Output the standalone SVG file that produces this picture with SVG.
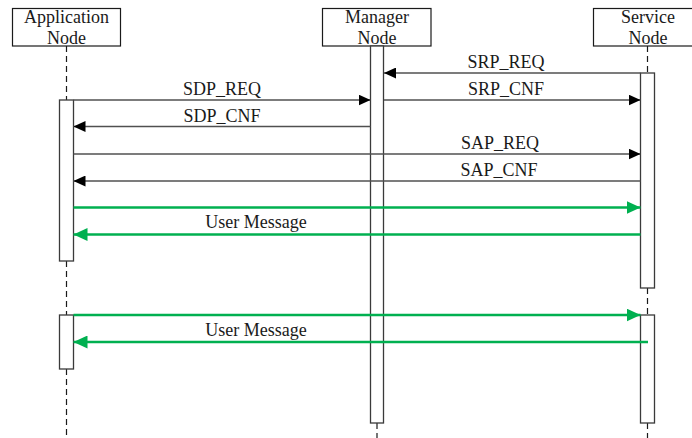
<svg xmlns="http://www.w3.org/2000/svg" width="692" height="438" viewBox="0 0 692 438">
<style>
.box{fill:#fff;stroke:#1a1a1a;stroke-width:1.2}
.act{fill:#fff;stroke:#3a3a3a;stroke-width:1.3}
.life{stroke:#1a1a1a;stroke-width:1.2;stroke-dasharray:6 4;fill:none}
.msg{stroke:#505050;stroke-width:1.4;fill:none}
.umsg{stroke:#00b050;stroke-width:2.4;fill:none}
text{font-family:"Liberation Serif","Times New Roman",serif;font-size:18px;fill:#1a1a1a;text-anchor:middle}
</style>
<defs>
<marker id="ah" markerUnits="userSpaceOnUse" markerWidth="12" markerHeight="11" refX="12" refY="5.5" orient="auto">
<path d="M0,0 L12,5.5 L0,11 z" fill="#000"/>
</marker>
<marker id="gh" markerUnits="userSpaceOnUse" markerWidth="14" markerHeight="13" refX="14" refY="6.5" orient="auto">
<path d="M0,0 L14,6.5 L0,13 z" fill="#00b050"/>
</marker>
</defs>
<g id="lifelines">
<path class="life" d="M66.5,46 V100 M66.5,261 V315 M66.5,369 V438"/>
<path class="life" d="M377,423 V438"/>
<path class="life" d="M647.5,46 V73 M647.5,288 V315 M647.5,423 V438"/>
</g>
<g id="app-node">
<rect class="box" x="12.5" y="8.5" width="108" height="37.5"/>
<text x="66.5" y="23">Application</text>
<text x="66.5" y="43.5">Node</text>
</g>
<g id="manager-node">
<rect class="box" x="322.5" y="8.5" width="108.5" height="37.5"/>
<text x="377" y="23">Manager</text>
<text x="377" y="43.5">Node</text>
</g>
<g id="service-node">
<rect class="box" x="593.5" y="8.5" width="110" height="37.5"/>
<text x="648" y="23">Service</text>
<text x="648" y="43.5">Node</text>
</g>
<g id="activations">
<rect class="act" x="59.5" y="100" width="14" height="161"/>
<rect class="act" x="59.5" y="315" width="14" height="54"/>
<rect class="act" x="370.5" y="46" width="13" height="377"/>
<rect class="act" x="640.5" y="73" width="14" height="215"/>
<rect class="act" x="640.5" y="315" width="14" height="108"/>
</g>
<g id="connectors">
<line class="msg" x1="640.5" y1="73" x2="384" y2="73" marker-end="url(#ah)"/>
<text x="506" y="68">SRP_REQ</text>
<line class="msg" x1="73.5" y1="100" x2="370.5" y2="100" marker-end="url(#ah)"/>
<text x="222" y="95">SDP_REQ</text>
<line class="msg" x1="384" y1="100" x2="640.5" y2="100" marker-end="url(#ah)"/>
<text x="506" y="95">SRP_CNF</text>
<line class="msg" x1="370.5" y1="126.5" x2="73.5" y2="126.5" marker-end="url(#ah)"/>
<text x="222" y="121.5">SDP_CNF</text>
<line class="msg" x1="73.5" y1="154" x2="640.5" y2="154" marker-end="url(#ah)"/>
<text x="500" y="149">SAP_REQ</text>
<line class="msg" x1="640.5" y1="181" x2="73.5" y2="181" marker-end="url(#ah)"/>
<text x="499" y="176">SAP_CNF</text>
<line class="umsg" x1="73.5" y1="207.5" x2="640.5" y2="207.5" marker-end="url(#gh)"/>
<line class="umsg" x1="640.5" y1="234.5" x2="73.5" y2="234.5" marker-end="url(#gh)"/>
<text x="256" y="228">User Message</text>
<line class="umsg" x1="73.5" y1="315" x2="640.5" y2="315" marker-end="url(#gh)"/>
<line class="umsg" x1="648" y1="342" x2="73.5" y2="342" marker-end="url(#gh)"/>
<text x="256" y="335.5">User Message</text>
</g>
</svg>
